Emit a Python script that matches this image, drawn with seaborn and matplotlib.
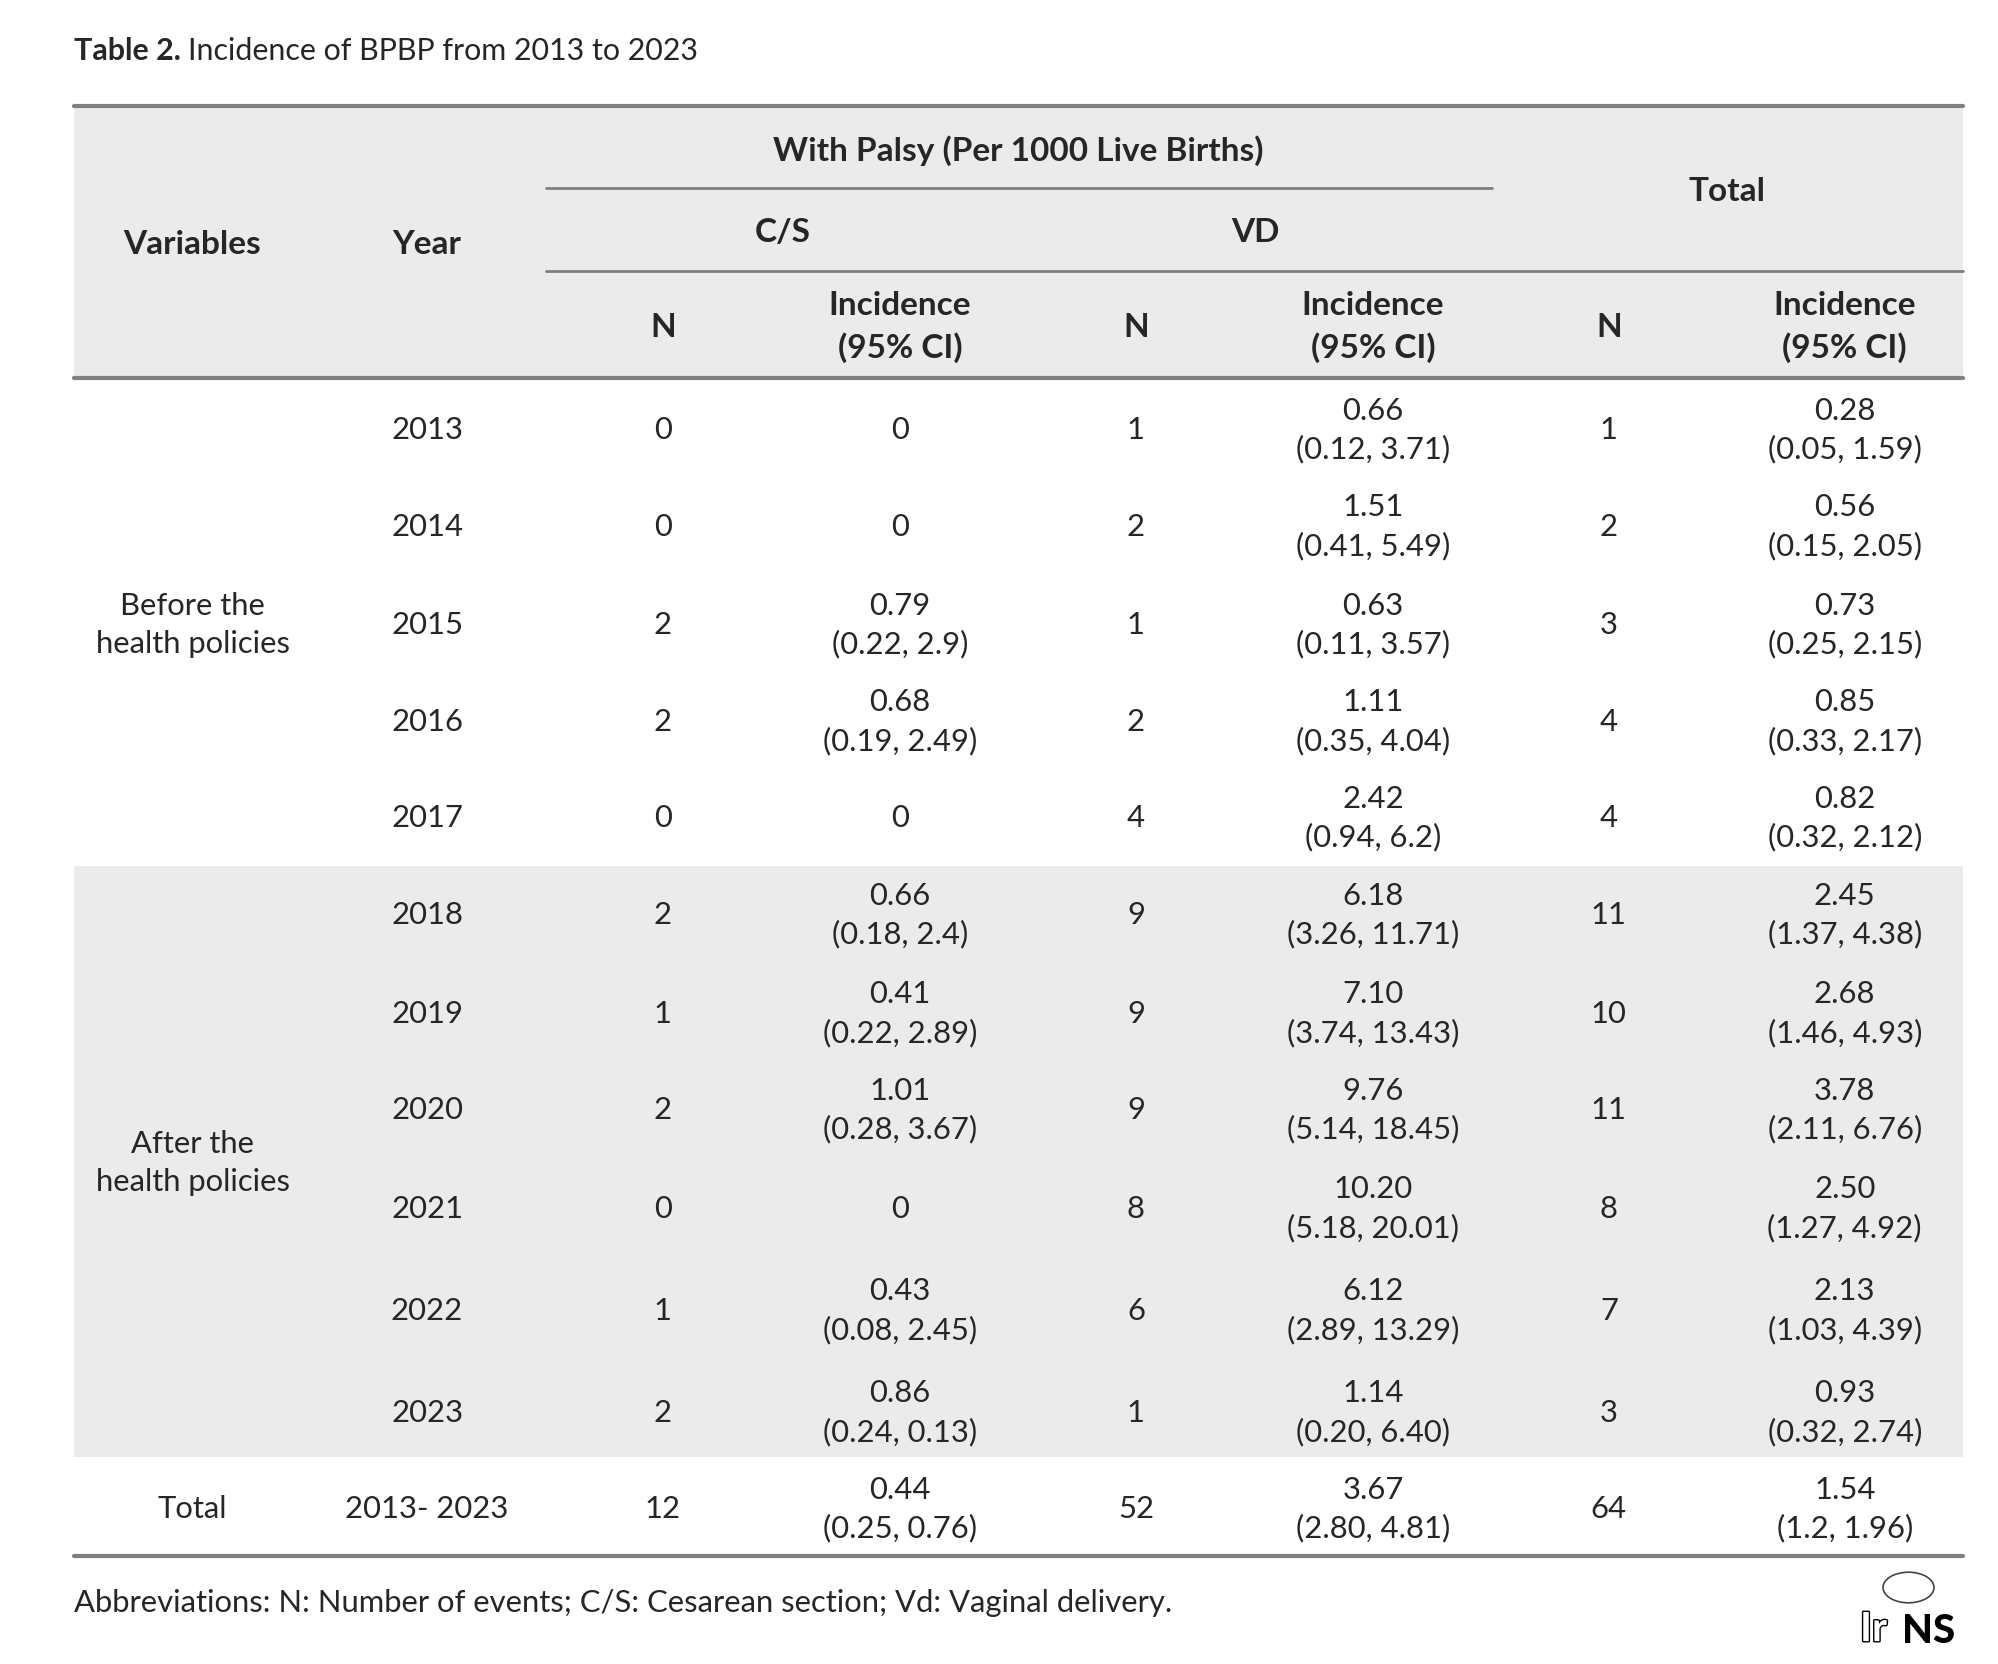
import matplotlib
matplotlib.use("Agg")
import matplotlib.pyplot as plt
import matplotlib.patheffects as pe
from matplotlib.patches import Ellipse
import seaborn as sns

sns.set_theme(style="white")
plt.rcParams["font.family"] = ["Lato", "DejaVu Sans"]

# table data
years = ["2013", "2014", "2015", "2016", "2017", "2018", "2019", "2020", "2021", "2022", "2023"]
cs_n = [0, 0, 2, 2, 0, 2, 1, 2, 0, 1, 2]
cs_inc = ["0", "0", "0.79", "0.68", "0", "0.66", "0.41", "1.01", "0", "0.43", "0.86"]
cs_ci = ["", "", "(0.22, 2.9)", "(0.19, 2.49)", "", "(0.18, 2.4)", "(0.22, 2.89)",
         "(0.28, 3.67)", "", "(0.08, 2.45)", "(0.24, 0.13)"]
vd_n = [1, 2, 1, 2, 4, 9, 9, 9, 8, 6, 1]
vd_inc = ["0.66", "1.51", "0.63", "1.11", "2.42", "6.18", "7.10", "9.76", "10.20", "6.12", "1.14"]
vd_ci = ["(0.12, 3.71)", "(0.41, 5.49)", "(0.11, 3.57)", "(0.35, 4.04)", "(0.94, 6.2)",
         "(3.26, 11.71)", "(3.74, 13.43)", "(5.14, 18.45)", "(5.18, 20.01)", "(2.89, 13.29)",
         "(0.20, 6.40)"]
tot_n = [1, 2, 3, 4, 4, 11, 10, 11, 8, 7, 3]
tot_inc = ["0.28", "0.56", "0.73", "0.85", "0.82", "2.45", "2.68", "3.78", "2.50", "2.13", "0.93"]
tot_ci = ["(0.05, 1.59)", "(0.15, 2.05)", "(0.25, 2.15)", "(0.33, 2.17)", "(0.32, 2.12)",
          "(1.37, 4.38)", "(1.46, 4.93)", "(2.11, 6.76)", "(1.27, 4.92)", "(1.03, 4.39)",
          "(0.32, 2.74)"]
total_row = ["Total", "2013- 2023", "12", "0.44", "(0.25, 0.76)", "52", "3.67", "(2.80, 4.81)",
             "64", "1.54", "(1.2, 1.96)"]
groups = ["Before the\nhealth policies", "After the\nhealth policies"]

fig = plt.figure(figsize=(19.99, 16.65), dpi=100)
ax = fig.add_axes([0, 0, 1, 1])
ax.set_xlim(0, 1568)
ax.set_ylim(1306, 0)
ax.axis("off")

grey = "#ebebeb"
rule = "#7f7f7f"
L, R = 58, 1540
fs = 22.3
fsb = 24

# backgrounds
ax.fill_between([L, R], 84, 297, color=grey, lw=0)
ax.fill_between([L, R], 680, 1144, color=grey, lw=0)

# rules
ax.plot([L, R], [84, 84], color=rule, lw=3)
ax.plot([428, 1170], [148, 148], color=rule, lw=2)
ax.plot([428, R], [213, 213], color=rule, lw=2)
ax.plot([L, R], [297, 297], color=rule, lw=3)
ax.plot([L, R], [1221, 1221], color=rule, lw=3)

# title
t = ax.text(58, 40, "Table 2.", fontsize=21.9, fontweight="bold", ha="left", va="center")
fig.canvas.draw()
bb = t.get_window_extent().transformed(ax.transData.inverted())
ax.text(bb.x1 + 6, 40, "Incidence of BPBP from 2013 to 2023", fontsize=21.9, ha="left", va="center")

# header
hb = dict(fontsize=fsb, fontweight="bold", ha="center", va="center")
ax.text(799, 118, "With Palsy (Per 1000 Live Births)", **hb)
ax.text(1355, 150, "Total", **hb)
ax.text(151, 192, "Variables", **hb)
ax.text(335, 192, "Year", **hb)
ax.text(614, 182, "C/S", **hb)
ax.text(985, 182, "VD", **hb)
col_n = [520, 891, 1262]
col_inc = [706, 1077, 1447]
for xn, xi in zip(col_n, col_inc):
    ax.text(xn, 257, "N", **hb)
    ax.text(xi, 240, "Incidence", **hb)
    ax.text(xi, 273, "(95% CI)", **hb)

# body
row_y = [337, 413, 490, 566, 642, 718, 795, 871, 948, 1028, 1108]
body = dict(fontsize=fs, ha="center", va="center")


def cell_inc(x, y, inc, ci):
    if ci:
        ax.text(x, y - 15, inc, **body)
        ax.text(x, y + 15, ci, **body)
    else:
        ax.text(x, y, inc, **body)


for i, y in enumerate(row_y):
    ax.text(335, y, years[i], **body)
    ax.text(col_n[0], y, str(cs_n[i]), **body)
    cell_inc(col_inc[0], y, cs_inc[i], cs_ci[i])
    ax.text(col_n[1], y, str(vd_n[i]), **body)
    cell_inc(col_inc[1], y, vd_inc[i], vd_ci[i])
    ax.text(col_n[2], y, str(tot_n[i]), **body)
    cell_inc(col_inc[2], y, tot_inc[i], tot_ci[i])

for g, y in zip(groups, [490, 912]):
    a, b = g.split("\n")
    ax.text(151, y - 15, a, **body)
    ax.text(151, y + 15, b, **body)

ty = 1184
ax.text(151, ty, total_row[0], **body)
ax.text(335, ty, total_row[1], **body)
for k, (xn, xi) in enumerate(zip(col_n, col_inc)):
    ax.text(xn, ty, total_row[2 + 3 * k], **body)
    cell_inc(xi, ty, total_row[3 + 3 * k], total_row[4 + 3 * k])

# footnote
ax.text(58, 1257, "Abbreviations: N: Number of events; C/S: Cesarean section; Vd: Vaginal delivery.",
        fontsize=fs, ha="left", va="center")

# journal logo
ax.add_patch(Ellipse((1497, 1246), 40, 24, fill=False, ec="#444444", lw=1.2))
ax.text(1459, 1279, "Ir", fontsize=29, ha="left", va="center", color="white", fontweight="bold",
        path_effects=[pe.withStroke(linewidth=2, foreground="black")])
ax.text(1492, 1280, "NS", fontsize=29, ha="left", va="center", color="black", fontweight="black")

fig.savefig("out.png", dpi=100, facecolor="white")
